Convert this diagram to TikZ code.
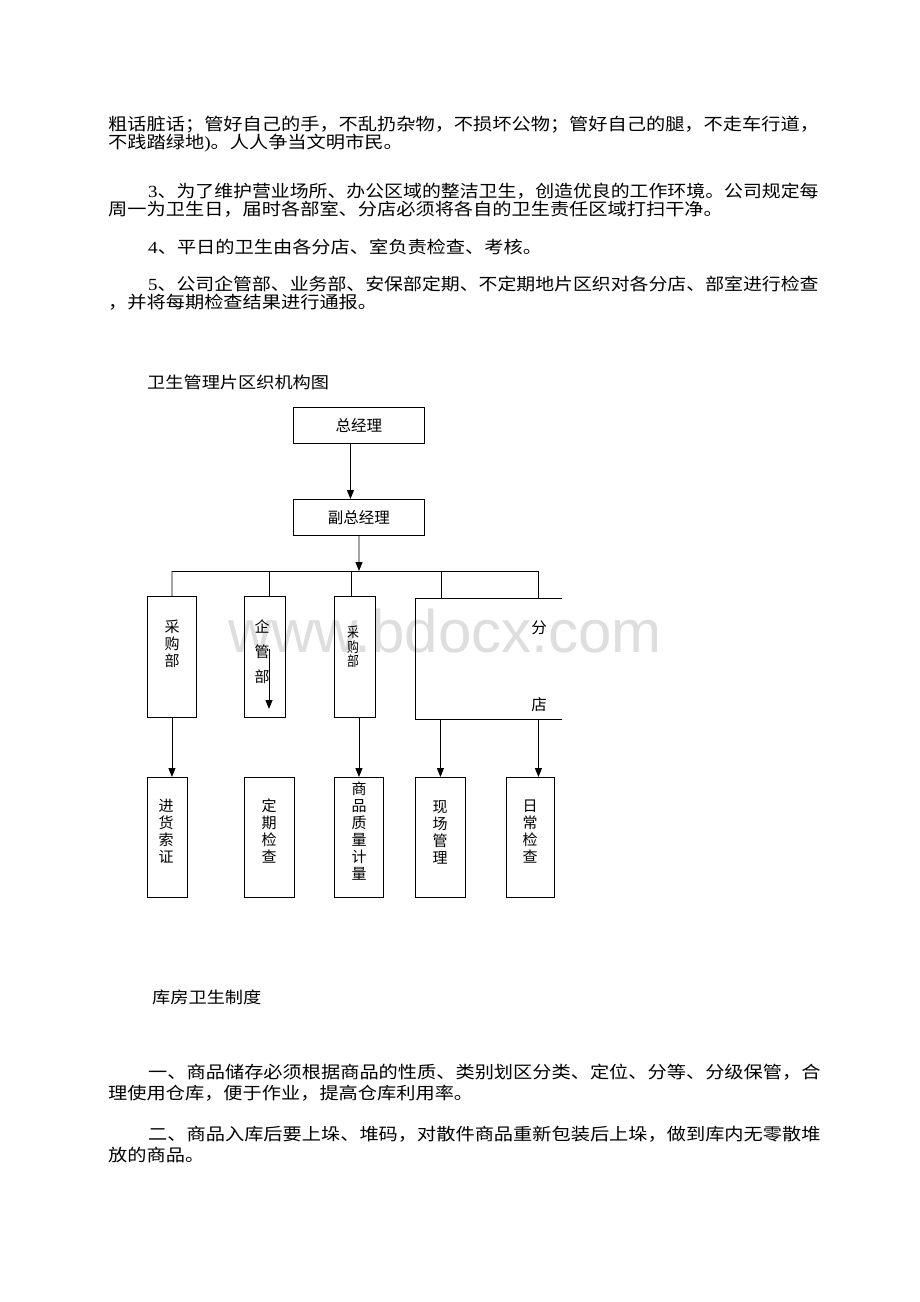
\documentclass[tikz,border=0pt]{standalone}
\usepackage{fontspec}
\setmainfont{Liberation Serif}[FakeStretch=1.13]
\newfontfamily\cjk{Noto Sans CJK SC}
\newfontfamily\cjkw{Noto Sans CJK SC}[FakeStretch=1.13]
\newfontfamily\wmfont{Liberation Sans}
\usetikzlibrary{arrows.meta,calc}
\begin{document}
\begin{tikzpicture}[x=1pt,y=-1pt,
  body/.style={anchor=base west,inner sep=0pt,font=\fontsize{17}{17}\selectfont},
  head/.style={anchor=base west,inner sep=0pt,font=\fontsize{16.1}{16.1}\selectfont\cjkw},
  box/.style={draw,line width=0.9pt,inner sep=0pt,anchor=north west},
  ln/.style={line width=0.9pt},
  arr/.style={line width=0.9pt,-{Triangle[length=9pt,width=7pt]}},
  vt/.style={inner sep=0pt,align=center,font=\fontsize{15}{17}\selectfont\cjk},
  lbl/.style={inner sep=0pt,font=\fontsize{15.5}{15.5}\selectfont\cjk}]
\useasboundingbox (0,0) rectangle (920,1302);
\fill[white] (0,0) rectangle (920,1302);

% watermark
\node[anchor=base west,inner sep=0pt,text=black!13,font=\fontsize{60}{60}\selectfont\wmfont] (wm) at (228,652) {www.bdocx.com};

% body text
\node[body] (l1) at (108,130.5) {\cjkw 粗话脏话；管好自己的手，不乱扔杂物，不损坏公物；管好自己的腿，不走车行道，};
\node[body] (l2) at (108,148.5) {{\cjkw 不践踏绿地}){\cjkw 。人人争当文明市民。}};
\node[body] (l3) at (148,197.5) {\scalebox{0.983}[1]{3{\cjkw 、为了维护营业场所、办公区域的整洁卫生，创造优良的工作环境。公司规定每}}};
\node[body] (l4) at (108,215.5) {\cjkw 周一为卫生日，届时各部室、分店必须将各自的卫生责任区域打扫干净。};
\node[body] (l5) at (148,253.5) {4{\cjkw 、平日的卫生由各分店、室负责检查、考核。}};
\node[body] (l6) at (148,290.5) {\scalebox{0.983}[1]{5{\cjkw 、公司企管部、业务部、安保部定期、不定期地片区织对各分店、部室进行检查}}};
\node[body] (l7) at (108,308.5) {\cjkw ，并将每期检查结果进行通报。};

\node[head] (title) at (147,388) {卫生管理片区织机构图};

% top boxes
\node[box,minimum width=131pt,minimum height=36pt] (zjl) at (293,407) {};
\node[lbl] (zjlt) at (zjl.center) {总经理};
\node[box,minimum width=131pt,minimum height=36pt] (fzjl) at (293,499) {};
\node[lbl] (fzjlt) at (fzjl.center) {副总经理};

\draw[arr] ([xshift=-8.5pt]zjl.south) -- ([xshift=-8.5pt]fzjl.north);

% bus
\coordinate (bus) at (359,571);
\coordinate (busL) at (172,571);
\coordinate (busR) at (538,571);
\draw[arr] (fzjl.south) -- (bus);
\draw[ln] (busL) -- (busR);

% second level
\node[box,minimum width=49pt,minimum height=121pt] (cg1) at (147,596) {};
\node[box,minimum width=41pt,minimum height=121pt] (qg) at (244,596) {};
\node[box,minimum width=41pt,minimum height=121pt] (cg3) at (334,596) {};
\node[inner sep=0pt,minimum width=147pt,minimum height=121pt,anchor=north west] (fd) at (415,598) {};
\draw[ln] (fd.north east) -- (fd.north west) -- (fd.south west) -- (fd.south east);

\node[vt] (cg1t) at (172,643.5) {采\\购\\部};
\node[lbl,font=\fontsize{15}{15}\selectfont\cjk] (qgt1) at (262,627) {企};
\node[lbl,font=\fontsize{15}{15}\selectfont\cjk] (qgt2) at (262,652) {管};
\node[lbl,font=\fontsize{15}{15}\selectfont\cjk] (qgt3) at (262,677) {部};
\node[lbl,font=\fontsize{14}{14}\selectfont\cjk] (cg3t1) at (353,632) {\scalebox{0.85}[1]{采}};
\node[lbl,font=\fontsize{14}{14}\selectfont\cjk] (cg3t2) at (353,647) {\scalebox{0.85}[1]{购}};
\node[lbl,font=\fontsize{14}{14}\selectfont\cjk] (cg3t3) at (353,661) {\scalebox{0.85}[1]{部}};
\node[lbl] (fen) at (539,628) {分};
\node[lbl] (dian) at (539,705) {店};

\coordinate (qa1) at (269,649);
\coordinate (qa2) at (269,709);
\draw[arr] (qa1) -- (qa2);

\draw[ln] (busL) -- (cg1.north);
\draw[ln] (269,571) -- (269,596);
\draw[ln] (351,571) -- (351,596);
\draw[ln] (441,571) -- (441,598);
\draw[ln] (busR) -- (538,598);

% third level
\node[box,minimum width=40pt,minimum height=120pt] (jh) at (147,777) {};
\node[box,minimum width=50pt,minimum height=120pt] (dq) at (244,777) {};
\node[box,minimum width=49pt,minimum height=120pt] (sp) at (334,777) {};
\node[box,minimum width=50pt,minimum height=120pt] (xc) at (415,777) {};
\node[box,minimum width=48pt,minimum height=120pt] (rc) at (506,777) {};

\node[vt] (jht) at (166,831) {进\\货\\索\\证};
\node[vt] (dqt) at (269,831) {定\\期\\检\\查};
\node[vt] (spt) at (359,831) {商\\品\\质\\量\\计\\量};
\node[vt] (xct) at (440,832) {现\\场\\管\\理};
\node[vt] (rct) at (530,832) {日\\常\\检\\查};

\draw[arr] (cg1.south) -- (cg1.south |- jh.north);
\draw[arr] (sp.north |- cg3.south) -- (sp.north);
\draw[arr] (xc.north |- fd.south) -- (xc.north);
\draw[arr] ([xshift=8pt]rc.north |- fd.south) -- ([xshift=8pt]rc.north);

% lower text
\node[head] (kf) at (152,1003) {库房卫生制度};
\node[body] (m1) at (148,1078) {\cjkw 一、商品储存必须根据商品的性质、类别划区分类、定位、分等、分级保管，合};
\node[body] (m2) at (108,1099) {\cjkw 理使用仓库，便于作业，提高仓库利用率。};
\node[body] (m3) at (148,1140) {\cjkw 二、商品入库后要上垛、堆码，对散件商品重新包装后上垛，做到库内无零散堆};
\node[body] (m4) at (108,1161) {\cjkw 放的商品。};
\end{tikzpicture}
\end{document}
